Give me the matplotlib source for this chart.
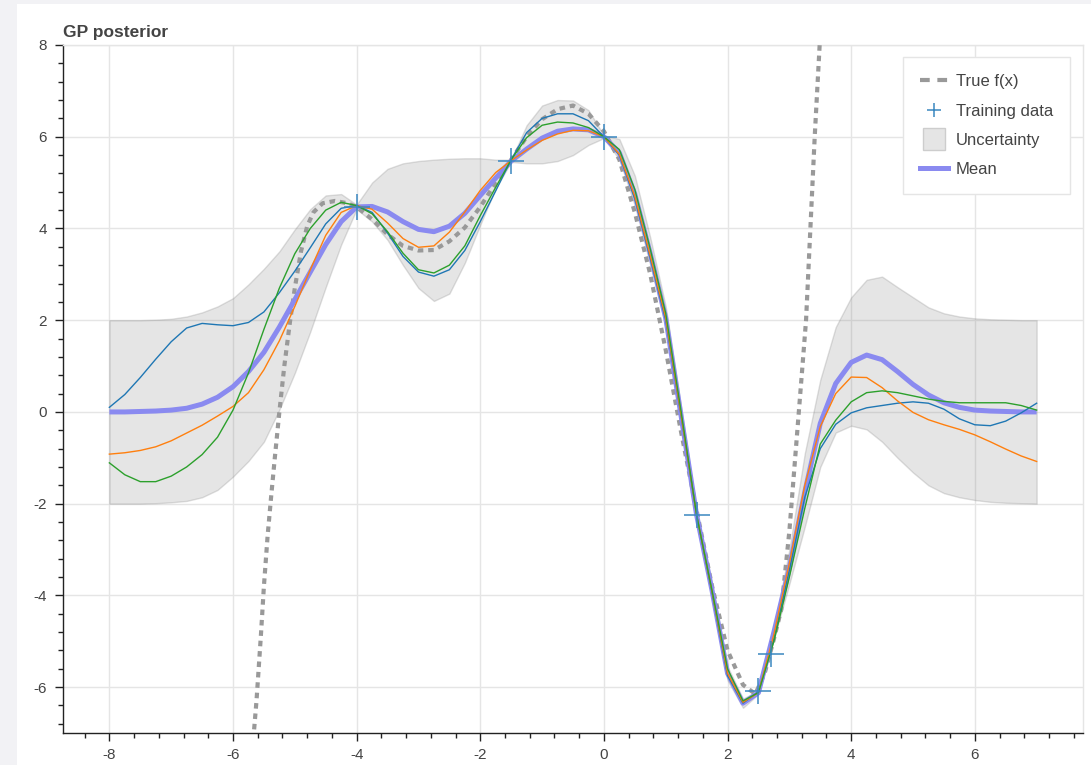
import numpy as np
import matplotlib
matplotlib.use("Agg")
import matplotlib.pyplot as plt
from matplotlib.patches import Rectangle
from matplotlib.lines import Line2D
from matplotlib.ticker import MultipleLocator

plt.rcParams['font.family'] = ['Liberation Sans', 'DejaVu Sans']
plt.rcParams['lines.scale_dashes'] = False

# ---------------- data ----------------
x_grid = np.arange(-8.0, 7.0001, 0.25)

mean = [0.0, 0.0, 0.01, 0.02, 0.04, 0.08, 0.17, 0.32, 0.55, 0.88, 1.3, 1.85, 2.45, 3.05, 3.65, 4.15, 4.47,
        4.48, 4.36, 4.15, 3.98, 3.93, 4.05, 4.33, 4.72, 5.1, 5.47, 5.73, 5.97, 6.12, 6.17, 6.15, 6.0,
        5.65, 4.75, 3.45, 2.05, -0.1, -2.25, -3.9, -5.7, -6.35, -6.12, -4.8, -3.4, -1.74, -0.25, 0.62, 1.08,
        1.24, 1.14, 0.88, 0.6, 0.37, 0.2, 0.1, 0.04, 0.02, 0.01, 0.0, 0.0]

upper = [2.0, 2.0, 2.0, 2.01, 2.03, 2.08, 2.17, 2.3, 2.48, 2.78, 3.12, 3.5, 3.98, 4.42, 4.72, 4.75, 4.52,
         5.0, 5.3, 5.42, 5.47, 5.5, 5.52, 5.53, 5.53, 5.5, 5.5, 6.25, 6.68, 6.8, 6.79, 6.58, 6.03,
         5.95, 5.15, 3.8, 2.3, 0.1, -2.2, -3.75, -5.55, -6.25, -6.08, -4.72, -3.0, -0.9, 0.7, 1.85, 2.5,
         2.88, 2.95, 2.72, 2.5, 2.28, 2.15, 2.08, 2.04, 2.02, 2.01, 2.0, 2.0]

lower = [-2.0, -2.0, -2.0, -1.99, -1.97, -1.94, -1.86, -1.7, -1.41, -1.07, -0.65, 0.05, 0.85, 1.75, 2.72, 3.65, 4.42,
         4.15, 3.75, 3.2, 2.7, 2.42, 2.58, 3.25, 4.08, 4.88, 5.45, 5.42, 5.42, 5.47, 5.6, 5.82, 5.97,
         5.5, 4.5, 3.2, 1.85, -0.25, -2.3, -4.05, -5.85, -6.45, -6.15, -4.95, -3.75, -2.5, -1.2, -0.45, -0.3,
         -0.38, -0.65, -1.0, -1.32, -1.6, -1.77, -1.86, -1.92, -1.96, -1.98, -1.99, -2.0]

sample_blue = [0.10, 0.38, 0.75, 1.15, 1.53, 1.83, 1.93, 1.9, 1.88, 1.95, 2.18, 2.6, 3.07, 3.58, 4.1, 4.44, 4.5,
               4.35, 3.9, 3.39, 3.05, 2.96, 3.1, 3.52, 4.15, 4.82, 5.5, 6.09, 6.4, 6.5, 6.5, 6.35, 6.0,
               5.6, 4.65, 3.35, 2.0, -0.1, -2.25, -3.95, -5.75, -6.35, -6.1, -4.95, -3.45, -1.86, -0.8, -0.27, -0.02,
               0.09, 0.14, 0.19, 0.22, 0.19, 0.06, -0.15, -0.28, -0.3, -0.2, -0.02, 0.19]

sample_orange = [-0.92, -0.89, -0.84, -0.76, -0.63, -0.46, -0.29, -0.09, 0.12, 0.42, 0.92, 1.55, 2.3, 3.1, 3.85, 4.35, 4.5,
                 4.42, 4.12, 3.78, 3.59, 3.62, 3.92, 4.36, 4.83, 5.22, 5.48, 5.71, 5.92, 6.06, 6.14, 6.13, 6.0,
                 5.62, 4.7, 3.4, 2.05, -0.08, -2.25, -3.92, -5.7, -6.33, -6.12, -4.85, -3.3, -1.6, -0.32, 0.4, 0.76,
                 0.75, 0.53, 0.24, -0.01, -0.17, -0.28, -0.38, -0.5, -0.65, -0.81, -0.96, -1.08]

sample_green = [-1.11, -1.37, -1.52, -1.52, -1.4, -1.2, -0.93, -0.55, 0.04, 0.85, 1.8, 2.7, 3.45, 4.0, 4.4, 4.57, 4.5,
                4.32, 3.93, 3.46, 3.1, 3.03, 3.2, 3.62, 4.28, 4.9, 5.5, 5.98, 6.25, 6.32, 6.3, 6.2, 6.0,
                5.72, 4.85, 3.55, 2.15, 0.0, -2.25, -3.9, -5.6, -6.3, -6.12, -5.0, -3.6, -2.1, -0.7, -0.18, 0.22,
                0.42, 0.46, 0.42, 0.35, 0.28, 0.23, 0.2, 0.2, 0.2, 0.2, 0.14, 0.04]

true_x = [-5.70, -5.62, -5.55, -5.50, -5.44, -5.38, -5.32, -5.25, -5.17, -5.08, -5.00, -4.90, -4.80, -4.70,
          -4.55, -4.35, -4.15, -4.00, -3.75, -3.50, -3.25, -3.00, -2.75, -2.50, -2.25, -2.00, -1.75, -1.50,
          -1.25, -1.00, -0.75, -0.50, -0.25, 0.00, 0.25, 0.50, 0.75, 1.00, 1.25, 1.50, 1.75, 2.00, 2.25,
          2.45, 2.60, 2.75, 2.87, 3.00, 3.10, 3.20, 3.27, 3.34, 3.41, 3.49, 3.52]
true_y = [-7.6, -6.3, -4.9, -3.8, -2.7, -1.8, -0.95, 0.0, 1.0, 1.95, 2.7, 3.5, 4.05, 4.35,
          4.55, 4.6, 4.55, 4.47, 4.2, 3.87, 3.62, 3.52, 3.53, 3.72, 4.02, 4.47, 5.0, 5.5,
          6.0, 6.38, 6.6, 6.68, 6.5, 6.12, 5.5, 4.35, 3.0, 1.35, -0.45, -2.15, -3.8, -5.2, -5.95,
          -6.15, -5.7, -4.95, -4.3, -2.6, -0.9, 0.8, 2.0, 4.0, 6.0, 8.0, 8.6]

train_x = [-4.0, -1.5, 0.0, 1.5, 2.5, 2.7]
train_y = [4.47, 5.47, 6.0, -2.25, -6.08, -5.28]

x_ticks = [-8, -6, -4, -2, 0, 2, 4, 6]
y_ticks = [-6, -4, -2, 0, 2, 4, 6, 8]

# ---------------- figure ----------------
W, H = 1091, 765
fig = plt.figure(figsize=(W / 100, H / 100), dpi=100, facecolor='#f2f2f5')
bg = fig.add_axes([17 / W, 0, 1 - 17 / W, 1 - 4 / H], zorder=0)
bg.set_axis_off()
bg.add_patch(Rectangle((0, 0), 1, 1, transform=bg.transAxes, facecolor='white', edgecolor='none'))

ax = fig.add_axes([63 / W, 1 - 733 / H, 1020 / W, 688 / H], zorder=2)
ax.set_facecolor('white')

ax.fill_between(x_grid, lower, upper, facecolor=(0.5, 0.5, 0.5, 0.2),
                edgecolor=(0.5, 0.5, 0.5, 0.25), linewidth=1.0, zorder=2)
ax.plot(true_x, true_y, color='#999999', lw=3.0, linestyle=(0, (4.0, 3.5)), zorder=3)
ax.plot(x_grid, mean, color='#8a8af0', lw=3.6, solid_capstyle='butt', zorder=4)
ax.plot(x_grid, sample_blue, color='#1f77b4', lw=1.0, zorder=5)
ax.plot(x_grid, sample_orange, color='#ff7f0e', lw=1.0, zorder=5)
ax.plot(x_grid, sample_green, color='#2ca02c', lw=1.0, zorder=5)
ax.plot(train_x, train_y, linestyle='none', marker='+', markersize=19, markeredgewidth=1.1,
        color='#3a87c0', zorder=6)

ax.set_xlim(-8.75, 7.75)
ax.set_ylim(-7, 8)
ax.set_xticks(x_ticks)
ax.set_yticks(y_ticks)
ax.xaxis.set_minor_locator(MultipleLocator(0.4))
ax.yaxis.set_minor_locator(MultipleLocator(0.4))
ax.set_xticklabels([str(v) for v in x_ticks])
ax.set_yticklabels([str(v) for v in y_ticks])

ax.grid(True, which='major', color='#e5e5e5', lw=1.0)
ax.set_axisbelow(True)
for s in ['top', 'right']:
    ax.spines[s].set_color('#e5e5e5')
    ax.spines[s].set_linewidth(1.0)
for s in ['left', 'bottom']:
    ax.spines[s].set_color('#222222')
    ax.spines[s].set_linewidth(1.0)
ax.tick_params(which='major', direction='out', length=6, width=1.0, color='#222222',
               labelsize=11, labelcolor='#444444', pad=4.5)
ax.tick_params(which='minor', direction='out', length=3.6, width=1.0, color='#222222')
ax.tick_params(axis='y', which='major', pad=5.5)

ax.set_title('GP posterior', loc='left', fontsize=12.5, fontweight='bold', color='#444444', pad=6)

handles = [
    Line2D([], [], color='#999999', lw=3.0, linestyle=(0, (7.0, 5.5))),
    Line2D([], [], linestyle='none', marker='+', markersize=9.5, markeredgewidth=1.1, color='#3a87c0'),
    Line2D([], [], linestyle='none', marker='s', markersize=15.5, markerfacecolor='#e5e5e5',
           markeredgecolor='#cdcdcd', markeredgewidth=1.0),
    Line2D([], [], color='#8a8af0', lw=3.6),
]
labels = ['True f(x)', 'Training data', 'Uncertainty', 'Mean']
leg = ax.legend(handles, labels, loc='upper right', bbox_to_anchor=((1070 - 63) / 1020, (733 - 57) / 688),
                borderaxespad=0, fontsize=12, frameon=True, fancybox=False, framealpha=1,
                edgecolor='#e5e5e5', labelspacing=0.86, handlelength=1.7, handletextpad=0.45,
                borderpad=1.03, labelcolor='#444444')
leg.get_frame().set_linewidth(1.0)
leg.set_zorder(10)

fig.savefig('out.png', dpi=100, facecolor=fig.get_facecolor())
